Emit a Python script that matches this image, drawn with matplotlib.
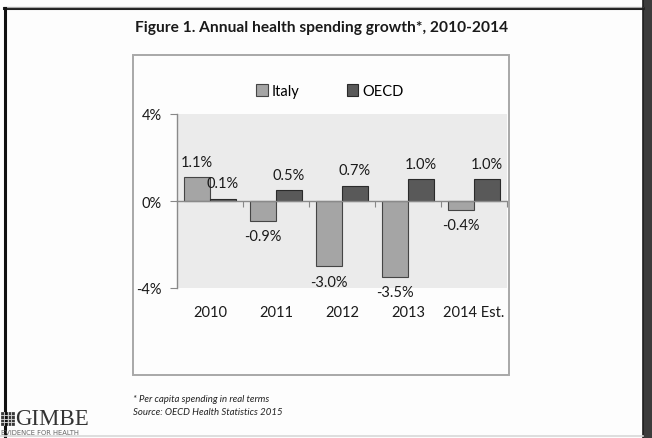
import numpy as np
import matplotlib
matplotlib.use("Agg")
import matplotlib.pyplot as plt
from matplotlib.patches import Rectangle
from matplotlib.lines import Line2D
import matplotlib.transforms as mtransforms

years = ["2010", "2011", "2012", "2013", "2014 Est."]
italy = [1.1, -0.9, -3.0, -3.5, -0.4]
oecd = [0.1, 0.5, 0.7, 1.0, 1.0]
yticks = [4, 0, -4]

W, H = 652, 439
fig = plt.figure(figsize=(W / 100, H / 100), dpi=100)
fig.patch.set_facecolor("#fdfdfd")

def fx(px):
    return px / W

def fy(py):
    return 1 - py / H

# slide borders
fig.add_artist(Line2D([fx(4), fx(643)], [fy(9), fy(9)], color="#222222", lw=2.2))
fig.add_artist(Line2D([fx(4), fx(643)], [fy(7.5), fy(7.5)], color="#aaaaaa", lw=0.8))
fig.add_artist(Line2D([fx(5), fx(5)], [fy(9), fy(439)], color="#111111", lw=2.2))
fig.add_artist(Rectangle((fx(643), 0), fx(9), 1, color="#3c3c3c", lw=0))
fig.add_artist(Line2D([fx(643), fx(643)], [0, 1], color="#1e1e1e", lw=1.2))
fig.add_artist(Line2D([0, fx(643)], [fy(437), fy(437)], color="#d8d8d8", lw=1.2))

# chart frame
fig.add_artist(Rectangle((fx(133), fy(376)), fx(376), (376 - 56) / H,
                         fill=False, edgecolor="#a8a8a8", lw=1.4))

fig.text(fx(135), fy(28), "Figure 1. Annual health spending growth*, 2010-2014",
         fontsize=11.2, fontweight="bold", family="Lato", color="#1a1a1a",
         va="center", ha="left")

ax = fig.add_axes([fx(177), fy(289), fx(330), (289 - 115) / H])
ax.set_facecolor("#ebebeb")

x = np.arange(len(years))
bw = 0.39
b1 = ax.bar(x - bw / 2, italy, bw, color="#a5a5a5", edgecolor="#454545", lw=0.8, label="Italy")
b2 = ax.bar(x + bw / 2, oecd, bw, color="#595959", edgecolor="#2a2a2a", lw=0.8, label="OECD")

for bars, vals in ((b1, italy), (b2, oecd)):
    for rect, v in zip(bars, vals):
        cx = rect.get_x() + rect.get_width() / 2
        ax.annotate(f"{v:.1f}%", (cx, v), xytext=(0, 6 if v >= 0 else -6),
                    textcoords="offset points", ha="center",
                    va="bottom" if v >= 0 else "top",
                    fontsize=10.5, family="Lato", color="#1a1a1a",
                    annotation_clip=False)

ax.set_xlim(-0.5, 4.5)
ax.set_ylim(-4, 4)
ax.set_yticks(yticks)
ax.set_yticklabels([f"{t}%" for t in yticks], fontsize=10.5, family="Lato", color="#1a1a1a")
ax.tick_params(axis="y", direction="out", length=5, color="#888888", pad=6)

ax.spines["bottom"].set_position(("data", 0))
ax.set_xticks(np.arange(0.5, 5, 1))
ax.set_xticklabels([])
ax.tick_params(axis="x", direction="out", length=4, color="#888888")
for s in ("top", "right"):
    ax.spines[s].set_visible(False)
for s in ("left", "bottom"):
    ax.spines[s].set_color("#8a8a8a")
    ax.spines[s].set_linewidth(1.0)

trans = mtransforms.blended_transform_factory(ax.transData, ax.transAxes)
for i, yr in enumerate(years):
    ax.text(i, -0.14, yr, transform=trans, ha="center", va="center",
            fontsize=10.5, family="Lato", color="#1a1a1a")

fig.legend(handles=[b1, b2], labels=["Italy", "OECD"], loc="center",
           bbox_to_anchor=(fx(330), fy(92)), ncol=2, frameon=False,
           handlelength=0.8, handleheight=0.8, handletextpad=0.3,
           columnspacing=3.2, prop={"family": "Lato", "size": 10.5})

fig.text(fx(133), fy(400), "* Per capita spending in real terms", fontsize=6.9,
         style="italic", family="Lato", color="#222222", va="center")
fig.text(fx(133), fy(413), "Source: OECD Health Statistics 2015", fontsize=6.9,
         style="italic", family="Lato", color="#222222", va="center")

# GIMBE logo: small grid icon plus wordmark
fig.add_artist(Rectangle((fx(1), fy(426)), fx(13), 13 / H, facecolor="#3a3a3a",
                         edgecolor="#333333", lw=0.5))
for k in range(1, 4):
    fig.add_artist(Line2D([fx(1 + 13 * k / 4)] * 2, [fy(426), fy(413)], color="#dddddd", lw=0.6))
    fig.add_artist(Line2D([fx(1), fx(14)], [fy(426 - 13 * k / 4)] * 2, color="#dddddd", lw=0.6))
fig.text(fx(15), fy(420), "GIMBE", fontsize=16.5, family="Liberation Serif",
         color="#333333", va="center", ha="left")
fig.text(fx(1), fy(433), "EVIDENCE FOR HEALTH", fontsize=4.9, family="DejaVu Sans",
         color="#666666", va="center", ha="left")

fig.savefig("out.png", dpi=100, facecolor=fig.get_facecolor())
